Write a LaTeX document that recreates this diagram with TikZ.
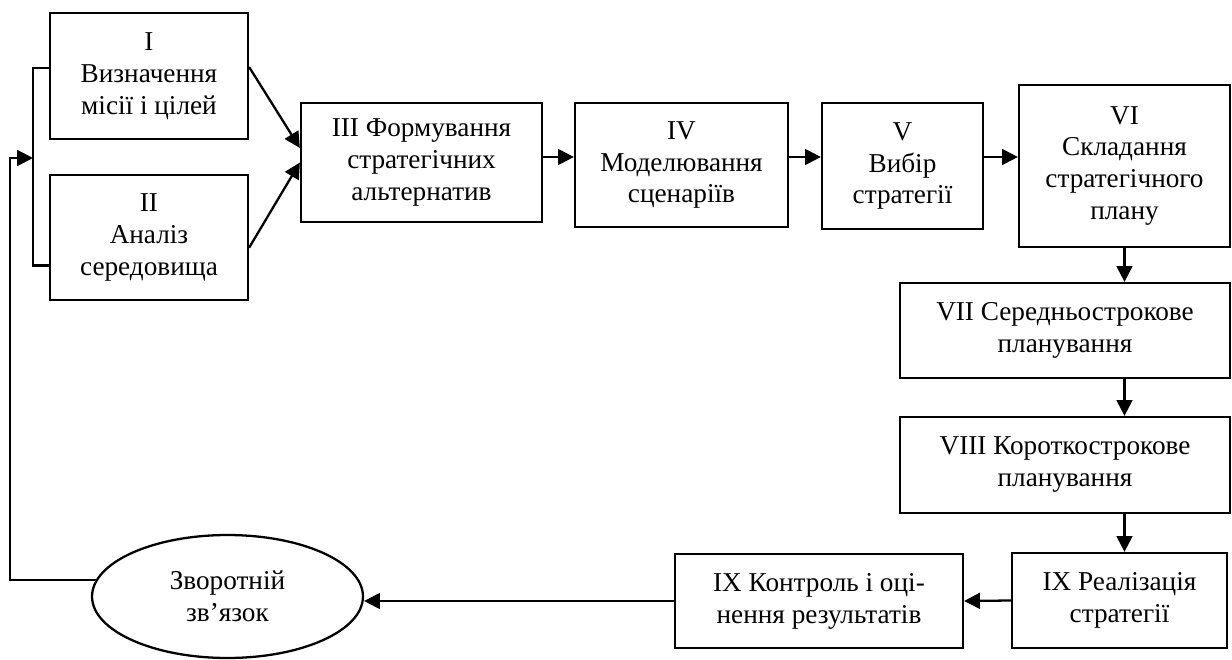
\documentclass[tikz,border=0pt]{standalone}
\usepackage{fontspec}
\setmainfont{Liberation Serif}
\usepackage{tikz}
\usetikzlibrary{shapes,arrows.meta,positioning,calc}

\begin{document}
\begin{tikzpicture}[x=0.02cm,y=-0.02cm,
    stage/.style={draw,line width=1.3pt,align=center,inner sep=2pt},
    link/.style={->,line width=1.3pt},
    >={Triangle[length=9pt,width=9pt]},
    font=\fontsize{15.5}{18.2}\selectfont]
    \useasboundingbox (0,0) rectangle (1232,660);

    % Inputs
    \node[stage,minimum width=3.96cm,minimum height=2.52cm] (mission) at (149,76) {I\\Визначення\\місії і цілей};
    \node[stage,minimum width=3.96cm,minimum height=2.5cm] (env) at (149,237.5) {II\\Аналіз\\середовища};

    % Top row
    \node[stage,minimum width=4.82cm,minimum height=2.38cm] (altern) at (421.5,162.5) {III Формування\\стратегічних\\альтернатив};
    \node[stage,minimum width=4.26cm,minimum height=2.48cm] (scen) at (681.5,165) {IV\\Моделювання\\сценаріїв};
    \node[stage,minimum width=3.22cm,minimum height=2.52cm] (choice) at (902.5,166) {V\\Вибір\\стратегії};
    \node[stage,minimum width=4.22cm,minimum height=3.24cm] (plan) at (1124.5,166) {VI\\Складання\\стратегічного\\плану};

    % Right column
    \node[stage,minimum width=6.6cm,minimum height=1.9cm] (midterm) at (1065,330.5) {VII Середньострокове\\планування};
    \node[stage,minimum width=6.6cm,minimum height=1.92cm] (shortterm) at (1065,465) {VIII Короткострокове\\планування};
    \node[stage,minimum width=4.3cm,minimum height=1.9cm] (realize) at (1119.5,600.5) {IX Реалізація\\стратегії};

    % Bottom row
    \node[stage,minimum width=5.76cm,minimum height=1.88cm] (control) at (819,601) {IX Контроль і оці-\\нення результатів};
    \node[stage,ellipse,inner sep=0pt,minimum width=5.42cm,minimum height=2.46cm] (feedback) at (227.5,596.5) {Зворотній\\зв’язок};

    \coordinate (row) at (0,157);
    \coordinate (join) at (33,158);
    \coordinate (back) at (10,158);

    % Arrows
    \draw[link] ($(mission.south east)!0.57!(mission.north east)$) -- ($(altern.south west)!0.62!(altern.north west)$);
    \draw[link] ($(env.south east)!0.42!(env.north east)$) -- (altern.west);
    \draw[link] (altern.east |- row) -- (scen.west |- row);
    \draw[link] (scen.east |- row) -- (choice.west |- row);
    \draw[link] (choice.east |- row) -- (plan.west |- row);
    \draw[link] (plan.south) -- (plan.south |- midterm.north);
    \draw[link] (plan.south |- midterm.south) -- (plan.south |- shortterm.north);
    \draw[link] (plan.south |- shortterm.south) -- (plan.south |- realize.north);
    \draw[link] (realize.west) -- (control.east);
    \draw[link] (control.west) -- (control.west -| feedback.east);

    % Feedback loop
    \draw[line width=1.3pt] ($(mission.south west)!0.56!(mission.north west)$) -| (join) |- ($(env.south west)!0.28!(env.north west)$);
    \draw[link] (feedback.173) -| (back) -- (join);
\end{tikzpicture}
\end{document}
